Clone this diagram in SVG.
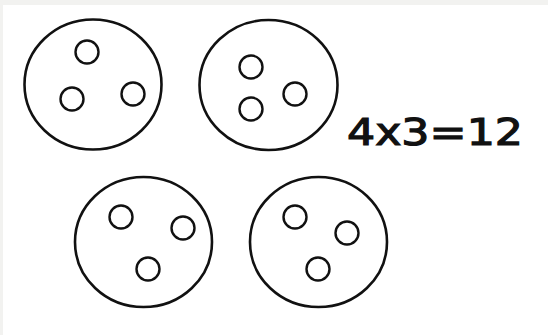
<svg xmlns="http://www.w3.org/2000/svg" width="548" height="335" viewBox="0 0 548 335">
<style>
.o{fill:none;stroke:#111;stroke-width:2.6}
.s{fill:none;stroke:#111;stroke-width:2.4}
.t{font-family:"DejaVu Sans",sans-serif;font-size:38px;fill:#111;stroke:#111;stroke-width:1.2}
</style>
<rect width="548" height="335" fill="#fff"/>
<rect width="548" height="5" fill="#f2f2f0"/>
<rect width="3" height="335" fill="#f2f2f0"/>
<g id="group1">
<ellipse class="o" cx="93" cy="84.5" rx="68.5" ry="65"/>
<circle class="s" cx="87" cy="52" r="11.5"/>
<circle class="s" cx="72" cy="99" r="11.5"/>
<circle class="s" cx="133" cy="94" r="11.5"/>
</g>
<g id="group2">
<ellipse class="o" cx="268.5" cy="85" rx="69" ry="65"/>
<circle class="s" cx="251" cy="67" r="11.5"/>
<circle class="s" cx="251" cy="109" r="11.5"/>
<circle class="s" cx="295" cy="94" r="11.5"/>
</g>
<g id="group3">
<ellipse class="o" cx="143.5" cy="242" rx="68.5" ry="65"/>
<circle class="s" cx="121" cy="217" r="11.5"/>
<circle class="s" cx="183" cy="228" r="11.5"/>
<circle class="s" cx="148" cy="269" r="11.5"/>
</g>
<g id="group4">
<ellipse class="o" cx="318.5" cy="242" rx="68.5" ry="65"/>
<circle class="s" cx="295" cy="217" r="11.5"/>
<circle class="s" cx="347" cy="233" r="11.5"/>
<circle class="s" cx="318" cy="269" r="11.5"/>
</g>
<g id="equation">
<text class="t" x="347" y="145" textLength="176" lengthAdjust="spacingAndGlyphs">4x3=12</text>
</g>
</svg>
